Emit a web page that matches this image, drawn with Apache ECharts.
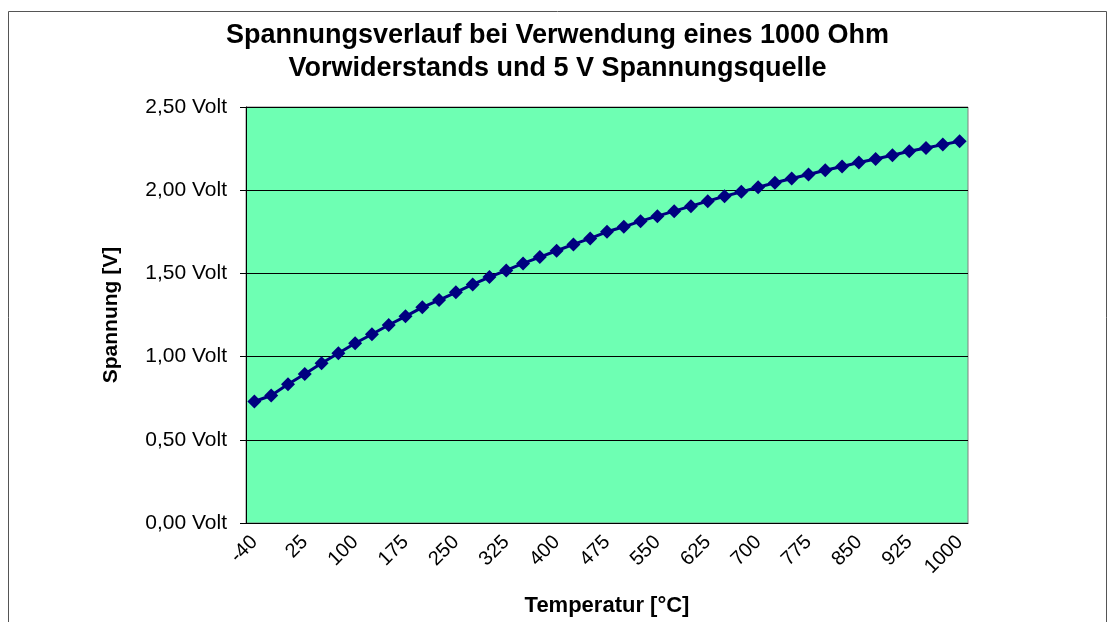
<!DOCTYPE html>
<html>
<head>
<meta charset="utf-8">
<script src="https://cdn.jsdelivr.net/npm/echarts@6/dist/echarts.min.js"></script>
<style>
  html, body { margin: 0; padding: 0; background: #fff; }
  #chart { width: 1115px; height: 622px; }
</style>
</head>
<body>
<div id="chart"></div>
<script>
// Temperatur-Kategorien (°C)
var temperatures = ['-40', '-20', '0', '25', '50', '75', '100', '125', '150', '175',
    '200', '225', '250', '275', '300', '325', '350', '375', '400', '425',
    '450', '475', '500', '525', '550', '575', '600', '625', '650', '675',
    '700', '725', '750', '775', '800', '825', '850', '875', '900', '925',
    '950', '975', '1000'];

// Spannung in Volt
var voltages = [0.730, 0.766, 0.834, 0.896, 0.960, 1.020, 1.080, 1.134, 1.190, 1.242,
    1.296, 1.340, 1.386, 1.434, 1.478, 1.518, 1.560, 1.598, 1.636, 1.674,
    1.710, 1.750, 1.780, 1.814, 1.844, 1.874, 1.904, 1.934, 1.964, 1.990,
    2.018, 2.045, 2.070, 2.094, 2.120, 2.142, 2.166, 2.188, 2.210, 2.234,
    2.254, 2.274, 2.294];

var yTicks = [0, 0.5, 1.0, 1.5, 2.0, 2.5];

var chart = echarts.init(document.getElementById('chart'));

var option = {
    animation: false,
    backgroundColor: '#ffffff',
    textStyle: {
        fontFamily: 'Liberation Sans, Arial, sans-serif'
    },
    title: {
        text: 'Spannungsverlauf bei Verwendung eines 1000 Ohm\nVorwiderstands und 5 V Spannungsquelle',
        left: 'center',
        top: 14,
        textStyle: {
            fontSize: 27,
            fontWeight: 'bold',
            color: '#000',
            lineHeight: 33
        }
    },
    graphic: [{
        type: 'rect',
        shape: { x: 8.5, y: 11.5, width: 1098, height: 620 },
        style: { fill: 'none', stroke: '#555', lineWidth: 1 },
        z: 100
    }],
    grid: {
        left: 246,
        right: 147,
        top: 107,
        bottom: 99,
        outerBoundsMode: 'none',
        containLabel: false,
        show: true,
        backgroundColor: '#6effb3',
        borderColor: '#808080',
        borderWidth: 1
    },
    xAxis: {
        type: 'category',
        data: temperatures,
        boundaryGap: true,
        name: 'Temperatur [°C]',
        nameLocation: 'middle',
        nameGap: 72,
        nameTextStyle: {
            fontSize: 22,
            fontWeight: 'bold',
            color: '#000'
        },
        axisLine: { lineStyle: { color: '#000', width: 1 } },
        axisTick: {
            interval: 0,
            length: 5,
            lineStyle: { color: '#000' }
        },
        axisLabel: {
            interval: 2,
            rotate: 45,
            fontSize: 20,
            color: '#000',
            margin: 16
        },
        splitLine: { show: false }
    },
    yAxis: {
        type: 'value',
        min: yTicks[0],
        max: yTicks[yTicks.length - 1],
        interval: 0.5,
        name: 'Spannung [V]',
        nameLocation: 'middle',
        nameGap: 124,
        nameRotate: 90,
        nameTextStyle: {
            fontSize: 21,
            fontWeight: 'bold',
            color: '#000'
        },
        axisLine: { show: true, lineStyle: { color: '#000', width: 1 } },
        axisTick: { show: true, length: 6, lineStyle: { color: '#000' } },
        axisLabel: {
            fontSize: 21,
            color: '#000',
            margin: 19,
            formatter: function (v) {
                return v.toFixed(2).replace('.', ',') + ' Volt';
            }
        },
        splitLine: { show: true, lineStyle: { color: '#000', width: 1 } }
    },
    series: [{
        name: 'Spannung',
        type: 'line',
        data: voltages,
        symbol: 'diamond',
        symbolSize: 14,
        showSymbol: true,
        showAllSymbol: true,
        lineStyle: { color: '#000080', width: 3 },
        itemStyle: { color: '#000080' }
    }]
};

chart.setOption(option);
</script>
</body>
</html>
